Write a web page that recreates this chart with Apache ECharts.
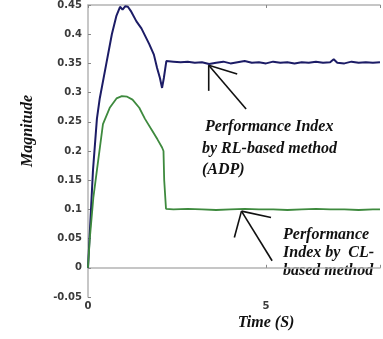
<!DOCTYPE html>
<html><head><meta charset="utf-8">
<script src="https://cdn.jsdelivr.net/npm/echarts@6/dist/echarts.min.js"></script>
<style>html,body{margin:0;padding:0;background:#fff}#c{width:383px;height:339px}</style>
</head><body><div id="c"></div>
<script>
// Time (s) and magnitude values
const rlTime = [0,0.05,0.14,0.25,0.33,0.5,0.67,0.8,0.9,0.97,1.05,1.12,1.2,1.36,1.5,1.72,1.85,1.94,2.02,2.08,2.13,2.2,2.4,2.6,2.8,3.0,3.2,3.4,3.6,3.8,4.0,4.2,4.4,4.6,4.8,5.0,5.2,5.4,5.6,5.8,6.0,6.2,6.4,6.6,6.8,6.9,7.0,7.2,7.4,7.6,7.8,8.0,8.2];
const rlValue = [0,0.06,0.167,0.255,0.29,0.345,0.40,0.432,0.447,0.442,0.448,0.447,0.44,0.422,0.41,0.383,0.365,0.342,0.325,0.308,0.325,0.354,0.353,0.352,0.353,0.351,0.352,0.349,0.351,0.353,0.350,0.352,0.354,0.351,0.352,0.350,0.353,0.351,0.352,0.350,0.352,0.351,0.353,0.351,0.352,0.357,0.351,0.350,0.353,0.351,0.352,0.351,0.352];
const clTime = [0,0.05,0.15,0.25,0.42,0.61,0.8,0.95,1.1,1.25,1.44,1.6,1.8,1.95,2.08,2.12,2.14,2.19,2.4,2.8,3.2,3.6,4.0,4.4,4.8,5.2,5.6,6.0,6.4,6.8,7.2,7.6,8.0,8.2];
const clValue = [0,0.05,0.12,0.167,0.246,0.274,0.29,0.294,0.293,0.288,0.274,0.255,0.235,0.22,0.206,0.2,0.15,0.101,0.100,0.101,0.100,0.099,0.100,0.101,0.100,0.100,0.099,0.100,0.101,0.100,0.100,0.099,0.100,0.100];
const yTicks = ['-0.05','0','0.05','0.1','0.15','0.2','0.25','0.3','0.35','0.4','0.45'];
const xTickLabels = ['0','5'];
const rlLabel = ['Performance Index', 'by RL-based method', '(ADP)'];
const clLabel = ['Performance', 'Index by  CL-', 'based method'];
// annotation arrows in data coordinates: [tip, tail, head1, head2]
const rlArrow = [[3.39,0.347],[4.44,0.272],[3.39,0.303],[4.19,0.332]];
const clArrow = [[4.31,0.097],[5.17,0.012],[4.11,0.052],[5.14,0.086]];

const chart = echarts.init(document.getElementById('c'));
const axisGray = '#b4b4b4';
const lblFont = {fontFamily:'DejaVu Sans', fontWeight:'bold', fontSize:10, color:'#3a3a3a'};
chart.setOption({
  animation:false,
  grid:{left:88, right:0, top:4, bottom:42},
  xAxis:[{
    type:'value', min:0, max:8.2, interval:5,
    axisLine:{lineStyle:{color:axisGray, width:1.5}},
    axisTick:{inside:true, length:3, lineStyle:{color:'#888'}},
    splitLine:{show:false},
    axisLabel:Object.assign({margin:4, formatter:v => xTickLabels.indexOf(String(v))>=0 ? String(v) : ''}, lblFont)
  },{
    type:'value', position:'top', min:0, max:8.2, interval:5,
    axisLine:{onZero:false, lineStyle:{color:axisGray, width:1.5}},
    axisTick:{inside:true, length:3, lineStyle:{color:'#888'}},
    axisLabel:{show:false}, splitLine:{show:false}
  }],
  yAxis:{
    type:'value', min:-0.05, max:0.45, interval:0.05,
    axisLine:{show:true, lineStyle:{color:axisGray, width:1.5}},
    axisTick:{show:true, inside:true, length:3, lineStyle:{color:'#888'}},
    splitLine:{show:false},
    axisLabel:Object.assign({margin:6, formatter:(v)=>{const i=Math.round((v+0.05)/0.05);return yTicks[i]||'';}}, lblFont)
  },
  series:[
    {type:'line', data:rlTime.map((t,i)=>[t,rlValue[i]]), showSymbol:false, smooth:false,
     lineStyle:{color:'#1c1c66', width:2}},
    {type:'line', data:clTime.map((t,i)=>[t,clValue[i]]), showSymbol:false, smooth:false,
     lineStyle:{color:'#3e8a3e', width:1.8}}
  ]
});

function px(p){ return chart.convertToPixel({xAxisIndex:0, yAxisIndex:0}, p); }
function arrow(a){
  const tip=px(a[0]);
  return [a[1],a[2],a[3]].map(q=>{const e=px(q);return {type:'line', shape:{x1:tip[0],y1:tip[1],x2:e[0],y2:e[1]}, style:{stroke:'#111', lineWidth:1.6}};});
}
const annFont = 'italic bold 16px "Liberation Serif"';
function textLines(lines, xs, ys){
  return lines.map((s,i)=>({type:'text', x:xs[i], y:ys[i], style:{text:s, font:annFont, fill:'#111', textVerticalAlign:'middle'}}));
}
chart.setOption({graphic:[].concat(
  arrow(rlArrow), arrow(clArrow),
  textLines(rlLabel,[205,202,202],[127,149,170]),
  textLines(clLabel,[283,283,283],[235,253,271]),
  [{type:'text', x:266, y:323, style:{text:'Time (S)', font:'italic bold 16px "Liberation Serif"', fill:'#111', textAlign:'center', textVerticalAlign:'middle'}},
   {type:'text', x:28, y:131, rotation:Math.PI/2, style:{text:'Magnitude', font:'italic bold 16px "Liberation Serif"', fill:'#111', textAlign:'center', textVerticalAlign:'middle'}}]
)});
</script></body></html>
